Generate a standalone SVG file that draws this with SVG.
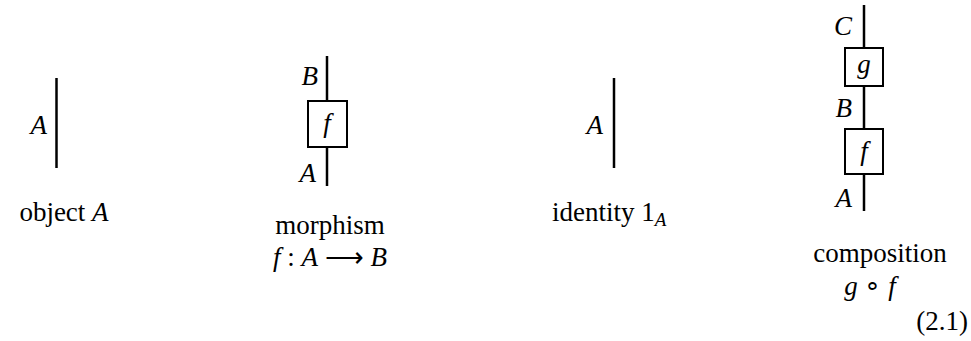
<svg xmlns="http://www.w3.org/2000/svg" width="971" height="341" viewBox="0 0 971 341">
<style>
text{font-size:27px;fill:#000}
.m{font-style:italic}
.wire{stroke:#000;stroke-width:2.5;fill:none}
.box{stroke:#000;stroke-width:2;fill:#fff}
.e{text-anchor:end}
.c{text-anchor:middle}
</style>
<rect width="971" height="341" fill="#fff"/>
<g id="connectors">
<line class="wire" x1="56.5" y1="78" x2="56.5" y2="168"/>
<line class="wire" x1="327" y1="56" x2="327" y2="101"/>
<line class="wire" x1="327" y1="147" x2="327" y2="186"/>
<line class="wire" x1="614" y1="78" x2="614" y2="168"/>
<line class="wire" x1="864" y1="5" x2="864" y2="48"/>
<line class="wire" x1="864" y1="86" x2="864" y2="129"/>
<line class="wire" x1="864" y1="174" x2="864" y2="211"/>
</g>
<g id="object" font-family="Liberation Serif">
<text class="m e" x="47" y="134">A</text>
<text class="c" x="64" y="221">object <tspan class="m">A</tspan></text>
</g>
<g id="morphism" font-family="Liberation Serif">
<text class="m e" x="318" y="85">B</text>
<text class="m e" x="316" y="182">A</text>
<rect class="box" x="308" y="101" width="39" height="46"/>
<text class="m c" x="327" y="132">f</text>
<text class="c" x="330" y="234">morphism</text>
<text class="c" x="330" y="266"><tspan class="m">f</tspan> : <tspan class="m">A</tspan> ⟶ <tspan class="m">B</tspan></text>
</g>
<g id="identity" font-family="Liberation Serif">
<text class="m e" x="603" y="134">A</text>
<text x="552" y="221">identity 1<tspan class="m" font-size="19" dy="5">A</tspan></text>
</g>
<g id="composition" font-family="Liberation Serif">
<text class="m e" x="852" y="35">C</text>
<rect class="box" x="845" y="48" width="38" height="38"/>
<text class="m c" x="864" y="73">g</text>
<text class="m e" x="852" y="117">B</text>
<rect class="box" x="845" y="129" width="38" height="45"/>
<text class="m c" x="864" y="160">f</text>
<text class="m e" x="852" y="207">A</text>
<text class="c" x="880" y="262">composition</text>
<text class="c" x="870" y="295"><tspan class="m">g</tspan> ∘ <tspan class="m">f</tspan></text>
<text class="e" x="968" y="330">(2.1)</text>
</g>
</svg>
